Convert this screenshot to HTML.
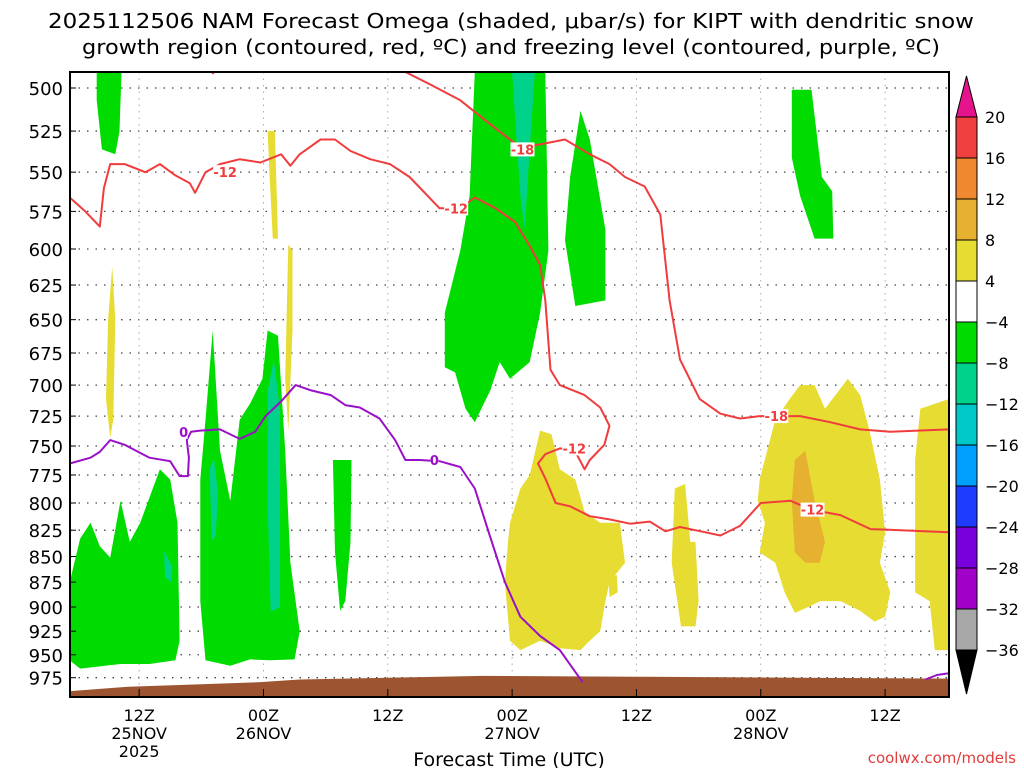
<!DOCTYPE html>
<html><head><meta charset="utf-8"><style>
body{margin:0;background:#fff;width:1024px;height:768px;overflow:hidden}
svg{display:block;font-family:"DejaVu Sans","Liberation Sans",sans-serif}
</style></head><body>
<svg id="c" width="1024" height="768" xmlns="http://www.w3.org/2000/svg">
<text x="511" y="28" text-anchor="middle" font-size="20.5" textLength="926" lengthAdjust="spacingAndGlyphs">2025112506 NAM Forecast Omega (shaded, μbar/s) for KIPT with dendritic snow</text>
<text x="511" y="54" text-anchor="middle" font-size="20.5" textLength="858" lengthAdjust="spacingAndGlyphs">growth region (contoured, red, ºC) and freezing level (contoured, purple, ºC)</text>
<text x="509" y="766" text-anchor="middle" font-size="19">Forecast Time (UTC)</text>
<text x="1016" y="763" text-anchor="end" font-size="15" fill="#e03c3c">coolwx.com/models</text>
</svg>
<script>
const pTicks=[500,525,550,575,600,625,650,675,700,725,750,775,800,825,850,875,900,925,950,975];
const tHours=[6,18,30,42,54,66,78];
const tHourLbl=["12Z","00Z","12Z","00Z","12Z","00Z","12Z"];
const tDayLbl=["25NOV","26NOV","","27NOV","","28NOV",""];
const cbLevels=[20,16,12,8,4,-4,-8,-12,-16,-20,-24,-28,-32,-36];
const cbColors=["#f04040","#f08830","#e6b030","#e6dc32","#ffffff","#00dc00","#00d28c","#00c8c8","#00a0ff","#1e3cff","#7800dc","#a000c8","#a8a8a8"];
const greenAreas=[
 [[1.9,491],[4.3,491],[4.1,525],[3.7,539],[2.4,536],[1.9,507]],
 [[-0.7,920],[-0.7,875],[0.3,833],[1.3,818],[2.2,840],[3.2,851],[4.2,798],[5.1,836],[6.1,818],[8,770],[9,779],[9.7,818],[9.9,935],[9.5,956],[7,960],[4.2,960],[0.3,965],[-0.7,956]],
 [[11.9,779],[12.4,728],[13.1,658],[13.8,754],[14.8,798],[15.7,728],[16.7,715],[17.9,695],[18.4,658],[19.4,662],[20.1,754],[20.6,856],[21.5,925],[21,955],[18.6,956],[16.7,955],[14.8,962],[12.4,956],[11.9,894]],
 [[24.7,762],[26.5,762],[26.4,836],[25.9,894],[25.4,904],[24.9,846]],
 [[38.4,491],[45.2,491],[45.5,601],[44.7,645],[43.7,682],[41.8,695],[40.8,682],[39.9,704],[38.4,730],[37.5,719],[36.5,690],[35.5,686],[35.5,645],[37,601],[37.9,565]],
 [[48.6,513],[49.5,530],[51,587],[51,636],[48.1,640],[47.1,594],[47.6,553]],
 [[69,501],[70.9,501],[71.9,553],[72.9,562],[73,593],[71.2,593],[69.8,565],[69,541]]
];
const tealAreas=[
 [[42,491],[44.2,491],[43.7,536],[43.2,587],[42.8,565],[42.3,519]],
 [[18.4,705],[19,680],[19.6,720],[19.6,900],[18.7,905],[18.4,800]],
 [[12.8,770],[13.2,760],[13.6,790],[13.4,830],[13,835]],
 [[8.4,845],[9.2,860],[9.1,875],[8.5,870]]
];
const yellowAreas=[
 [[3,650],[3.4,612],[3.7,650],[3.5,728],[3.2,743],[2.8,711]],
 [[18.4,525],[19.1,525],[19.4,593],[18.9,593],[18.6,553]],
 [[20.4,597],[20.8,601],[20.8,658],[20.4,737],[20.1,695]],
 [[41.8,818],[42.8,787],[43.7,775],[44.7,737],[45.8,740],[46.6,770],[48.1,779],[49,808],[50.5,818],[52.4,818],[52.9,856],[51.4,875],[51,894],[50.5,925],[49.5,935],[48.6,945],[46.6,943],[44.7,935],[42.8,945],[41.8,935],[41.3,875],[41.6,836]],
 [[51.3,870],[52.1,868],[52.2,885],[51.4,890]],
 [[57.7,787],[58.7,783],[59.2,836],[59.7,836],[60,894],[59.7,920],[58.3,920],[57.4,856]],
 [[65.9,779],[67.4,728],[68.8,711],[69.8,700],[71.2,700],[72.2,719],[73.2,708],[74.4,695],[75.6,708],[76.5,737],[77.5,779],[78,827],[77.5,856],[78.5,885],[78,910],[77,915],[75.6,904],[73.7,894],[71.7,894],[70.8,899],[69.3,906],[68.3,885],[67.4,856],[65.9,846],[66.4,818],[65.7,798]],
 [[81.4,719],[84.2,711],[84.2,945],[82.8,945],[82.3,894],[80.9,885],[80.9,762]]
];
const goldAreas=[[[69.3,762],[70.3,754],[71.2,798],[72.2,836],[71.7,856],[70.3,856],[69.3,846],[69,798]]];
const groundTop=[[-0.7,990],[5,985],[17.5,980],[21.5,977],[35,974],[39,973],[55,974],[70,975],[84.2,976]];
const zeroLine=[[-0.7,765],[1.3,760],[2.2,755],[3.2,745],[4.6,749],[7,760],[9,763],[9.9,776],[10.7,776],[10.8,760],[10.6,745],[11,738],[11.9,737],[13.8,736],[15.7,744],[17.2,738],[18.2,725],[19.7,713],[21.1,700],[22.5,704],[24.5,708],[25.9,716],[27.3,718],[29.2,727],[30.7,745],[31.7,762],[33.1,762],[35,763],[37,768],[38.4,787],[39.9,832],[41.3,875],[42.8,910],[44.7,930],[46.6,945],[48.8,980]];
const zeroLine2=[[81.9,977],[83,972],[84.2,970]];
const m12Upper=[[-0.7,566],[0.8,575],[2.2,585],[2.6,560],[3.2,545],[4.6,545],[6.6,550],[8,545],[9.5,552],[10.9,557],[11.4,563],[12.4,550],[13.8,545],[15.7,542],[17.7,544],[19.7,539],[20.6,546],[21.5,539],[23.5,530],[24.9,530],[26.4,537],[28.3,542],[30.2,545],[32.1,553],[35,573],[37,573],[38.4,566],[40.4,573],[42.3,582],[43.7,598],[44.7,611],[45.2,636],[45.7,688],[46.6,700],[49,708],[50.5,718],[51.4,733],[50.9,749],[49.5,762],[49,770],[48,753],[46.6,752],[45.2,757],[44.5,765],[45.2,778],[46.2,800],[47.6,803],[49.5,812],[51.4,815],[53.4,819],[55.3,817],[56.8,826],[58.2,822],[60.2,826],[62.1,830],[64,821],[66,800],[68.9,798],[70.8,806],[73.7,811],[76.6,824],[79.5,825],[84.2,827]];
const m18Line=[[31.7,491],[34.1,498],[37,507],[39.9,521],[42.8,535],[44.7,533],[47.1,530],[49.5,539],[51.4,545],[52.9,553],[54.8,559],[56.3,577],[57.2,636],[58.2,680],[60.1,711],[62.1,723],[64,727],[65.9,725],[69.8,725],[72.7,730],[75.6,736],[78.5,738],[84.2,736]];
const m12Top=[[12.3,488],[13.2,492]];
const contourLabels=["-12","-12","-18","-12","-18","-12","0","0"];
const contourLabelPos=[[14.3,550],[36.6,573],[43,536],[48,752],[67.5,725],[71,806],[10.3,738],[34.5,762]];
const contourLabelColor=["#f03c3c","#f03c3c","#f03c3c","#f03c3c","#f03c3c","#f03c3c","#9a10c8","#9a10c8"];

const X0=77,XS=10.36,Y0=88,YS=883,L=70,R=949,T=72,B=697;
const xs=h=>X0+h*XS, ys=p=>Y0+YS*Math.log(p/500);
const svg=document.getElementById('c'),NS="http://www.w3.org/2000/svg";
function mk(tag,at,parent){const e=document.createElementNS(NS,tag);for(const k in at)e.setAttribute(k,at[k]);(parent||svg).appendChild(e);return e;}
const defs=mk('defs',{});const cp=mk('clipPath',{id:'clip'},defs);mk('rect',{x:L,y:T,width:R-L,height:B-T},cp);
const g=mk('g',{'clip-path':'url(#clip)'});


pTicks.forEach(p=>{const l=mk('line',{x1:L,x2:R,y1:ys(p),y2:ys(p),stroke:'#444','stroke-width':1.3,'stroke-dasharray':'1.5 7'},g);

});
tHours.forEach(h=>{const l=mk('line',{x1:xs(h),x2:xs(h),y1:T,y2:B,stroke:'#aaa','stroke-width':1,'stroke-dasharray':'1.5 5'},g);

});
const pts=a=>a.map(q=>xs(q[0]).toFixed(1)+','+ys(q[1]).toFixed(1)).join(' ');
function fills(arr,col,name){arr.forEach(a=>{const e=mk('polygon',{points:pts(a),fill:col},g);

});}
fills(greenAreas,'#00dc00','omega-green-area');
fills(tealAreas,'#00d28c','omega-teal-area');
fills(yellowAreas,'#e6dc32','omega-yellow-area');
fills(goldAreas,'#e6b030','omega-gold-area');
const gp=groundTop.concat([[84.2,1010],[-0.7,1010]]);
const gr=mk('polygon',{points:pts(gp),fill:'#9c5530'},g);


function line(a,col,name){const e=mk('polyline',{points:pts(a),fill:'none',stroke:col,'stroke-width':2,'stroke-linejoin':'round'},g);

}
line(m12Upper,'#f03c3c','dgz-minus12-contour');
line(m18Line,'#f03c3c','dgz-minus18-contour');
line(m12Top,'#f03c3c','dgz-top-contour');
line(zeroLine,'#9a10c8','freezing-level-contour');
line(zeroLine2,'#9a10c8','freezing-level-contour-2');
contourLabels.forEach((t,i)=>{const x=xs(contourLabelPos[i][0]),y=ys(contourLabelPos[i][1]);
const w=t.length*8;
mk('rect',{x:x-w/2,y:y-7,width:w,height:14,fill:'#fff'},g);
const e=mk('text',{x:x,y:y+5,'text-anchor':'middle','font-size':13,'font-weight':'bold',fill:contourLabelColor[i]},g);e.textContent=t;

});
const fr=mk('rect',{x:L,y:T,width:R-L,height:B-T,fill:'none',stroke:'#000','stroke-width':2});


pTicks.forEach(p=>{const e=mk('text',{x:63,y:ys(p)+7,'text-anchor':'end','font-size':18});e.textContent=p;


mk('line',{x1:L,x2:L+6,y1:ys(p),y2:ys(p),stroke:'#000'});});
tHours.forEach((h,i)=>{const x=xs(h);mk('line',{x1:x,x2:x,y1:B,y2:B-8,stroke:'#000'});
const a=mk('text',{x:x,y:721,'text-anchor':'middle','font-size':16});a.textContent=tHourLbl[i];


if(tDayLbl[i]){const b=mk('text',{x:x,y:739,'text-anchor':'middle','font-size':16});b.textContent=tDayLbl[i];

}});
const yr=mk('text',{x:xs(6),y:757,'text-anchor':'middle','font-size':16});yr.textContent='2025';


const CX=956,CW=21,CT=117,CS=41;
const cb=mk('g',{});


mk('polygon',{points:`${CX},${CT} ${CX+CW},${CT} ${CX+CW/2},76`,fill:'#e6148c',stroke:'#000'},cb);
cbColors.forEach((c,i)=>{mk('rect',{x:CX,y:CT+i*CS,width:CW,height:CS,fill:c,stroke:'#000'},cb);});
const cbB=CT+cbColors.length*CS;
mk('polygon',{points:`${CX},${cbB} ${CX+CW},${cbB} ${CX+CW/2},694`,fill:'#000',stroke:'#000'},cb);
cbLevels.forEach((v,i)=>{const e=mk('text',{x:985,y:CT+i*CS+6,'font-size':16},cb);e.textContent=v<0?'\u2212'+(-v):v;

});
</script>
</body></html>
